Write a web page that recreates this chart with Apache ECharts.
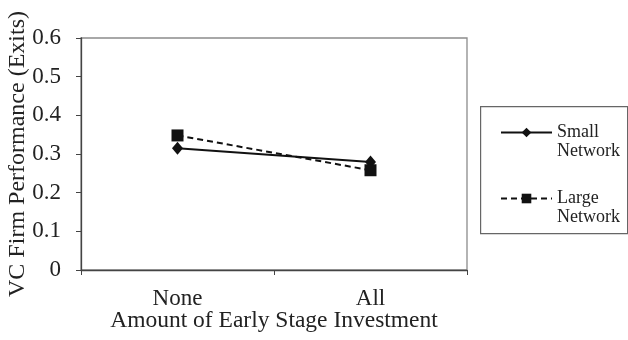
<!DOCTYPE html>
<html>
<head>
<meta charset="utf-8">
<script src="https://cdn.jsdelivr.net/npm/echarts@6/dist/echarts.min.js"></script>
<style>
html,body{margin:0;padding:0;background:#fff;}
#chart{width:628px;height:340px;}
</style>
</head>
<body>
<div id="chart"></div>
<script>
var categories = ['None', 'All'];
var smallNetwork = [0.315, 0.279];
var largeNetwork = [0.348, 0.258];
var yTicks = [0, 0.1, 0.2, 0.3, 0.4, 0.5, 0.6];
var seriesNames = ['Small Network', 'Large Network'];

var FONT = '"Liberation Serif", "Times New Roman", serif';
var chart = echarts.init(document.getElementById('chart'), null, {renderer: 'canvas'});
chart.setOption({
  animation: false,
  backgroundColor: '#fff',
  textStyle: {fontFamily: FONT, color: '#222'},
  grid: {left: 81, top: 38, width: 386, height: 232, outerBoundsMode: 'none', containLabel: false,
    show: true, borderColor: '#8c8c8c', borderWidth: 1.3, backgroundColor: 'transparent'},
  graphic: [{
    type: 'rect', left: 480, top: 106, z: 0,
    shape: {width: 147, height: 127},
    style: {fill: '#fff', stroke: '#666', lineWidth: 1.2}
  }],
  legend: {
    orient: 'vertical', left: 500, top: 104, padding: 0, itemGap: 9,
    itemWidth: 51, itemHeight: 12,
    data: seriesNames,
    formatter: function (n) { return ' \n' + n.replace(' ', '\n'); },
    textStyle: {fontFamily: FONT, fontSize: 18, color: '#222', lineHeight: 19}
  },
  xAxis: {
    type: 'category', data: categories, boundaryGap: true,
    axisLine: {lineStyle: {color: '#444', width: 1.3}},
    axisTick: {show: true, length: 5, lineStyle: {color: '#444'}},
    axisLabel: {fontFamily: FONT, fontSize: 23, color: '#222', margin: 17},
    name: 'Amount of Early Stage Investment', nameLocation: 'middle', nameGap: 39, nameMoveOverlap: false,
    nameTextStyle: {fontFamily: FONT, fontSize: 23.5, color: '#222'}
  },
  yAxis: {
    type: 'value', min: 0, max: 0.6, interval: 0.1,
    axisLine: {show: true, lineStyle: {color: '#444', width: 1.3}},
    axisTick: {show: true, length: 5, lineStyle: {color: '#444'}},
    splitLine: {show: false},
    axisLabel: {fontFamily: FONT, fontSize: 23, color: '#222', margin: 20,
      formatter: function (v) { var i = yTicks.indexOf(Math.round(v*10)/10); return i >= 0 ? String(yTicks[i]) : ''; }},
    name: 'VC Firm Performance (Exits)', nameLocation: 'middle', nameGap: 51, nameRotate: 90, nameMoveOverlap: false,
    nameTextStyle: {fontFamily: FONT, fontSize: 24, color: '#222'}
  },
  series: [{
    name: seriesNames[0], type: 'line', data: smallNetwork,
    symbol: 'diamond', symbolSize: [11, 13],
    lineStyle: {color: '#111', width: 2, type: 'solid'},
    itemStyle: {color: '#111'}
  }, {
    name: seriesNames[1], type: 'line', data: largeNetwork,
    symbol: 'rect', symbolSize: 12,
    lineStyle: {color: '#111', width: 2, type: [6, 4]},
    itemStyle: {color: '#111'}
  }]
});
</script>
</body>
</html>
